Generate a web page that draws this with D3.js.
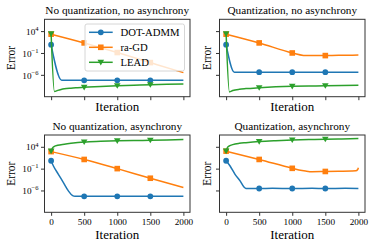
<!DOCTYPE html>
<html><head><meta charset="utf-8">
<script src="https://cdn.jsdelivr.net/npm/d3@7/dist/d3.min.js"></script>
<style>body{margin:0;background:#fff}svg{display:block}
svg text{font-family:"Liberation Serif","DejaVu Serif",serif}</style>
</head><body><svg id="c" width="374" height="248"></svg>
<script>
// ---------- data ----------
const seriesNames = ["DOT-ADMM", "ra-GD", "LEAD"];
const seriesColors = ["#1f77b4", "#ff7f0e", "#2ca02c"];
const seriesMarkers = ["circle", "square", "triangle"];
const panelTitles = ["No quantization, no asynchrony", "Quantization, no asynchrony",
                     "No quantization, asynchrony", "Quantization, asynchrony"];
const xTicks = [0, 500, 1000, 1500, 2000];
const yTicks = [1e4, 1e-1, 1e-6];
const yTickExp = ["4", "\u22121", "\u22126"];
const markerIters = [0, 500, 1000, 1500];
const xLabel = "Iteration";
const yLabel = "Error";

// values are log10(error)
// Panel 1: no quantization, no asynchrony
const p1AdmmIter = [0, 160, 500, 1000, 1500, 2000];
const p1AdmmLog  = [0.9, -7.25, -7.25, -7.25, -7.25, -7.25];
const p1RagdIter = [0, 500, 1000, 1500, 2000];
const p1RagdLog  = [3.3, 1.3, -0.9, -3.2, -5.5];
const p1LeadIter = [0, 50, 100, 150, 200, 300, 400, 500, 750, 1000, 1250, 1500, 1750, 2000];
const p1LeadLog  = [3.4, -9.8, -9.55, -9.35, -9.2, -9.05, -8.95, -8.86, -8.65, -8.5, -8.38, -8.27, -8.18, -8.1];
// Panel 2: quantization, no asynchrony
const p2AdmmIter = [0, 125, 500, 1000, 1500, 2000];
const p2AdmmLog  = [0.9, -5.4, -5.4, -5.4, -5.4, -5.4];
const p2RagdIter = [0, 500, 1000, 1170, 1300, 1500, 1700, 1850, 2000];
const p2RagdLog  = [3.3, 1.3, -1.0, -1.55, -1.6, -1.6, -1.5, -1.5, -1.45];
const p2LeadIter = [0, 50, 100, 200, 300, 500, 750, 1000, 1250, 1500, 1750, 2000];
const p2LeadLog  = [3.4, -9.9, -9.6, -9.3, -9.15, -8.95, -8.75, -8.62, -8.55, -8.5, -8.45, -8.4];
// Panel 3: no quantization, asynchrony
const p3AdmmIter = [0, 35, 110, 186, 261, 326, 360, 500, 1000, 1500, 2000];
const p3AdmmLog  = [0.8, -0.4, -2.3, -4.2, -6.1, -7.2, -7.35, -7.35, -7.35, -7.35, -7.35];
const p3RagdIter = [0, 500, 1000, 1500, 2000];
const p3RagdLog  = [2.9, 1.1, -1.0, -3.2, -5.3];
const p3LeadIter = [0, 20, 50, 100, 200, 300, 500, 750, 1000, 1250, 1500, 1750, 2000];
const p3LeadLog  = [3.0, 3.7, 4.1, 4.35, 4.6, 4.8, 5.1, 5.25, 5.36, 5.43, 5.5, 5.58, 5.66];
// Panel 4: quantization, asynchrony
const p4AdmmIter = [0, 60, 135, 211, 270, 300, 500, 700, 1000, 1300, 1500, 1800, 2000];
const p4AdmmLog  = [0.8, -0.4, -2.3, -3.8, -5.2, -5.55, -5.55, -5.5, -5.55, -5.5, -5.55, -5.5, -5.55];
const p4RagdIter = [0, 500, 1000, 1100, 1200, 1300, 1500, 1700, 1900, 1960, 1990, 2000];
const p4RagdLog  = [3.0, 1.1, -0.93, -1.3, -1.55, -1.7, -1.65, -1.6, -1.55, -1.5, -1.2, -0.8];
const p4LeadIter = [0, 20, 50, 100, 200, 300, 500, 750, 1000, 1250, 1500, 1750, 2000];
const p4LeadLog  = [3.0, 3.8, 4.2, 4.5, 4.8, 4.95, 5.2, 5.4, 5.55, 5.65, 5.73, 5.8, 5.88];

const panelData = [
  [[p1AdmmIter, p1AdmmLog], [p1RagdIter, p1RagdLog], [p1LeadIter, p1LeadLog]],
  [[p2AdmmIter, p2AdmmLog], [p2RagdIter, p2RagdLog], [p2LeadIter, p2LeadLog]],
  [[p3AdmmIter, p3AdmmLog], [p3RagdIter, p3RagdLog], [p3LeadIter, p3LeadLog]],
  [[p4AdmmIter, p4AdmmLog], [p4RagdIter, p4RagdLog], [p4LeadIter, p4LeadLog]]
];

// ---------- layout / style ----------
const colX = [[44.5, 190], [219.5, 365]];
const rowY = [[19.3, 96.7], [135, 212.3]];
const edge = "#333";
const sz = {title: 10.5, label: 11.5, legend: 10, tick: 9};

const svg = d3.select("#c");

// horizontal stretch so the Times-like font gets Computer-Modern-like widths
function measure(str, size) {
  const t = svg.append("text").attr("font-size", size).text(str);
  const w = t.node().getComputedTextLength(); t.remove(); return w;
}
const sTitle = 144 / measure(panelTitles[0], sz.title);
const sLabelX = 44 / measure(xLabel, sz.label);
const sLabelY = 24 / measure(yLabel, sz.label);
const sLegend = 59 / measure(seriesNames[0], sz.legend);
const sTick = 18.4 / measure("2000", sz.tick);

function txt(parent, x, y, str, size, anchor, s, rot) {
  const g = parent.append("g").attr("transform", `translate(${x},${y})${rot ? " rotate(-90)" : ""} scale(${s},1)`);
  return g.append("text").attr("font-size", size).attr("text-anchor", anchor).text(str);
}

function marker(g, type, x, y, color) {
  if (type === "circle") {
    g.append("circle").attr("cx", x).attr("cy", y).attr("r", 2.9).attr("fill", color);
  } else if (type === "square") {
    g.append("rect").attr("x", x - 2.8).attr("y", y - 2.8).attr("width", 5.6).attr("height", 5.6).attr("fill", color);
  } else {
    g.append("path").attr("d", `M${x-3.3},${y-2.6}L${x+3.3},${y-2.6}L${x},${y+3.1}Z`).attr("fill", color);
  }
}

panelData.forEach((series, pi) => {
  const r = Math.floor(pi / 2), c = pi % 2;
  const [x0, x1] = colX[c], [y0, y1] = rowY[r];
  const x = d3.scaleLinear().domain([-100, 2100]).range([x0, x1]);
  const y = d3.scaleLog().domain([1e-11, Math.pow(10, 6.7)]).range([y1, y0]);
  const g = svg.append("g");

  const clipId = "clip" + pi;
  g.append("clipPath").attr("id", clipId).append("rect")
    .attr("x", x0).attr("y", y0).attr("width", x1 - x0).attr("height", y1 - y0);

  const plot = g.append("g").attr("clip-path", `url(#${clipId})`);
  series.forEach(([its, lv], si) => {
    const pts = its.map((it, i) => [it, Math.pow(10, lv[i])]);
    const line = d3.line().x(d => x(d[0])).y(d => y(d[1])).curve(d3.curveMonotoneX);
    plot.append("path").attr("d", line(pts)).attr("fill", "none")
      .attr("stroke", seriesColors[si]).attr("stroke-width", 1.5).attr("stroke-linejoin", "round");
    pts.filter(d => markerIters.includes(d[0])).forEach(d =>
      marker(plot, seriesMarkers[si], x(d[0]), y(d[1]), seriesColors[si]));
  });

  // frame
  g.append("rect").attr("x", x0).attr("y", y0).attr("width", x1 - x0).attr("height", y1 - y0)
    .attr("fill", "none").attr("stroke", edge).attr("stroke-width", 1);

  // x axis (tick marks via d3 axis, labels stretched)
  const xa = g.append("g").attr("transform", `translate(0,${y1})`)
    .call(d3.axisBottom(x).tickValues(xTicks).tickSize(3.5).tickFormat(() => ""));
  xa.select(".domain").remove();
  xa.selectAll("line").attr("stroke", edge);
  if (r === 1) {
    xa.selectAll(".tick").each(function(d) {
      txt(d3.select(this), 0, 12.5, d3.format("d")(d), sz.tick, "middle", sTick).attr("fill", "#000");
    });
  }

  // y axis
  const ya = g.append("g").attr("transform", `translate(${x0},0)`)
    .call(d3.axisLeft(y).tickValues(yTicks).tickSize(3.5).tickFormat(() => ""));
  ya.select(".domain").remove();
  ya.selectAll("line").attr("stroke", edge);
  if (c === 0) {
    ya.selectAll(".tick").each(function(d, i) {
      const t = txt(d3.select(this), -6, 3.2, "", sz.tick, "end", sTick).attr("fill", "#000");
      t.append("tspan").text("10");
      t.append("tspan").attr("font-size", 6.4).attr("dy", -4).text(yTickExp[i]);
    });
  }

  // title
  txt(g, (x0 + x1) / 2, y0 - 5.5, panelTitles[pi], sz.title, "middle", sTitle);
  // x label
  txt(g, (x0 + x1) / 2, y1 + (r === 0 ? 14.5 : 26.5), xLabel, sz.label, "middle", sLabelX);
  // y label
  txt(g, c === 0 ? 15 : 210.5, (y0 + y1) / 2, yLabel, sz.label, "middle", sLabelY, true);

  // legend
  if (pi === 0) {
    const lg = g.append("g");
    lg.append("rect").attr("x", 85).attr("y", 24).attr("width", 99.5).attr("height", 47).attr("rx", 2)
      .attr("fill", "#fff").attr("fill-opacity", 0.8).attr("stroke", "#ccc").attr("stroke-width", 0.8);
    seriesNames.forEach((nm, si) => {
      const ly = 32.3 + si * 15;
      lg.append("line").attr("x1", 89).attr("x2", 112.7).attr("y1", ly).attr("y2", ly)
        .attr("stroke", seriesColors[si]).attr("stroke-width", 1.5);
      marker(lg, seriesMarkers[si], 100.8, ly, seriesColors[si]);
      txt(lg, 120.5, ly + 3.5, nm, sz.legend, "start", sLegend);
    });
  }
});
</script></body></html>
